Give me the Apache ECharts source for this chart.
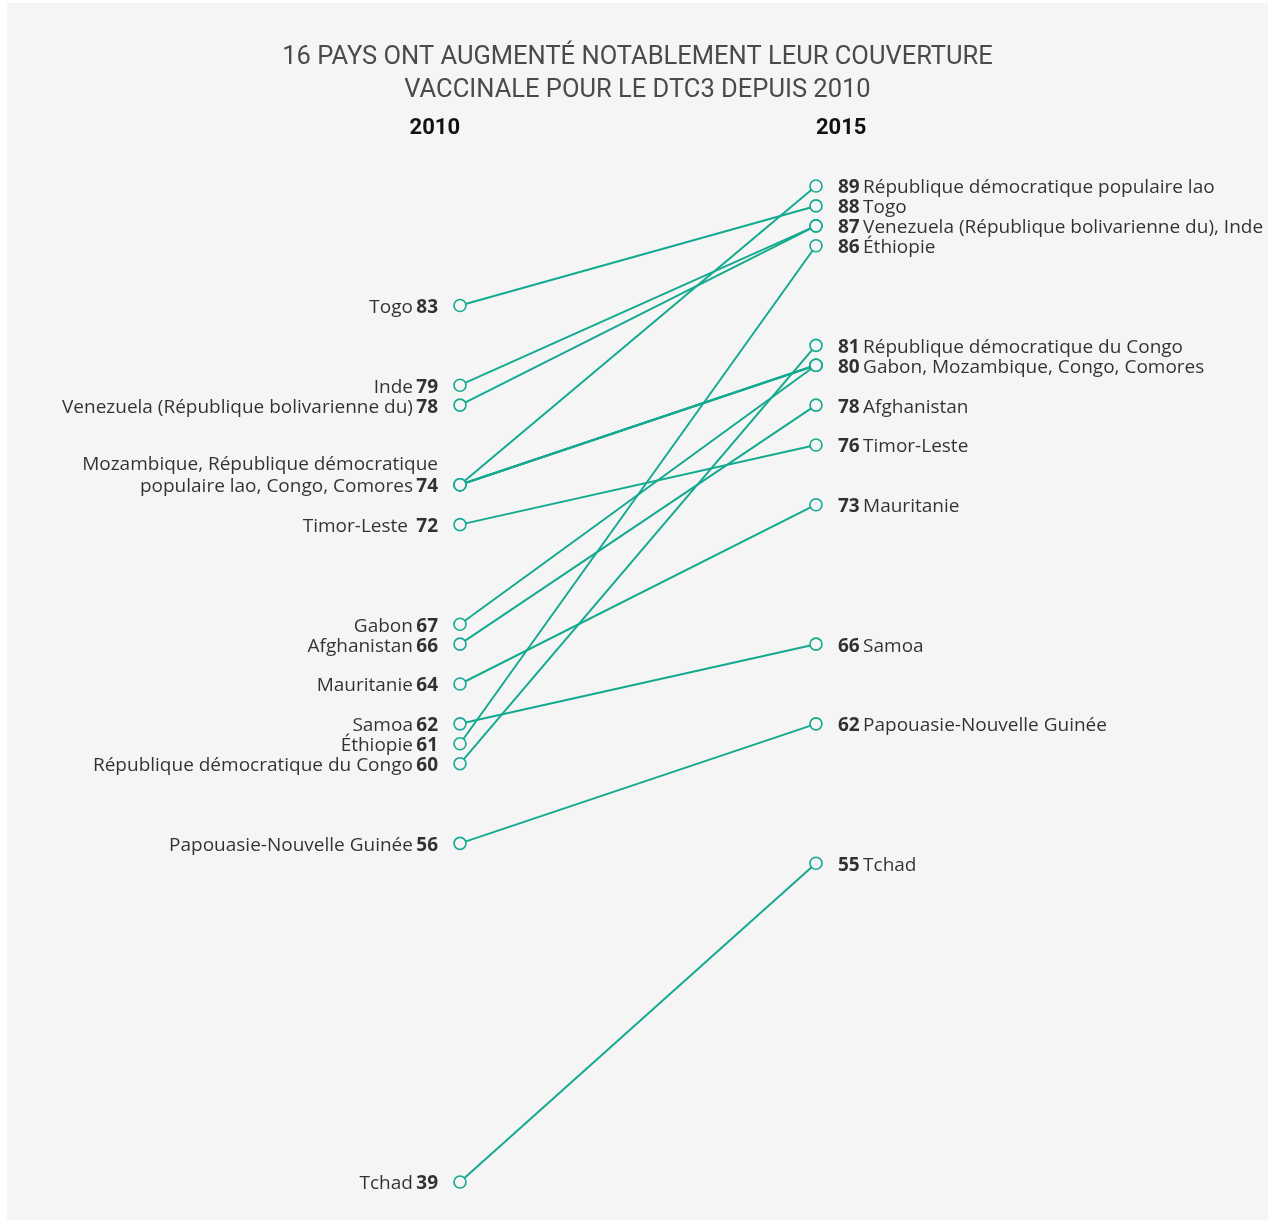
<!DOCTYPE html>
<html><head><meta charset="utf-8">
<script src="https://cdn.jsdelivr.net/npm/echarts@6/dist/echarts.min.js"></script>
<style>html,body{margin:0;padding:0;background:#fff}#c{width:1275px;height:1222px}</style>
</head><body><div id="c"></div>
<script>
const years = ['2010', '2015'];
const countries = ['Togo','Inde','Venezuela (République bolivarienne du)','Mozambique','République démocratique populaire lao','Congo','Comores','Timor-Leste','Gabon','Afghanistan','Mauritanie','Samoa','Éthiopie','République démocratique du Congo','Papouasie-Nouvelle Guinée','Tchad'];
const v2010 = [83,79,78,74,74,74,74,72,67,66,64,62,61,60,56,39];
const v2015 = [88,87,87,80,89,80,80,76,80,78,73,66,86,81,62,55];

const leftLabelText = ['Togo','Inde','Venezuela (République bolivarienne du)','Mozambique, République démocratique\npopulaire lao, Congo, Comores','Timor-Leste ','Gabon','Afghanistan','Mauritanie','Samoa','Éthiopie','République démocratique du Congo','Papouasie-Nouvelle Guinée','Tchad'];
const leftLabelValue = [83,79,78,74,72,67,66,64,62,61,60,56,39];
const rightLabelText = ['République démocratique populaire lao','Togo','Venezuela (République bolivarienne du), Inde','Éthiopie','République démocratique du Congo','Gabon, Mozambique, Congo, Comores','Afghanistan','Timor-Leste','Mauritanie','Samoa','Papouasie-Nouvelle Guinée','Tchad'];
const rightLabelValue = [89,88,87,86,81,80,78,76,73,66,62,55];

const TEAL = '#14aa90';
const FONT = '"Open Sans", Roboto, sans-serif';
const TFONT = 'Roboto, "Open Sans", sans-serif';
const chart = echarts.init(document.getElementById('c'), null, {renderer:'canvas'});

const lineSeries = countries.map((c, i) => ({
  type: 'line', name: c,
  data: [v2010[i], v2015[i]],
  symbol: 'circle', symbolSize: 12,
  itemStyle: {color: '#f5f5f5', borderColor: TEAL, borderWidth: 1.6},
  lineStyle: {color: TEAL, width: 2},
  emphasis: {disabled: true},
  z: 2, animation: false
}));

const rich = {
  n: {fontFamily: FONT, fontSize: 19, color: '#000000', lineHeight: 22},
  b: {fontFamily: FONT, fontSize: 19, fontWeight: 'bold', color: '#000000', lineHeight: 22}
};

const leftLabels = {
  type: 'scatter', symbolSize: 0, silent: true, z: 3, animation: false,
  data: leftLabelText.map((t, i) => {
    const lines = t.split('\n');
    return {
      value: [0, leftLabelValue[i]],
      label: {
        show: true, position: 'left', distance: 22, color: '#000',
        offset: [0, 2 - (lines.length - 1) * 11],
        align: 'right',
        formatter: lines.map((l, k) => k === lines.length - 1 ? '{n|' + l + '} {b|' + leftLabelValue[i] + '}' : '{n|' + l + '}').join('\n'),
        rich: rich
      }
    };
  })
};

const rightLabels = {
  type: 'scatter', symbolSize: 0, silent: true, z: 3, animation: false,
  data: rightLabelText.map((t, i) => ({
    value: [1, rightLabelValue[i]],
    label: {
      show: true, position: 'right', distance: 22, color: '#000', offset: [0, 2],
      formatter: '{b|' + rightLabelValue[i] + '} {n|' + t + '}',
      rich: rich
    }
  }))
};

chart.setOption({
  backgroundColor: '#ffffff',
  animation: false,
  graphic: [{type: 'rect', shape: {x: 7, y: 3, width: 1261, height: 1217}, style: {fill: '#f5f5f5'}, z: -10, silent: true}],
  title: {
    text: '16 PAYS ONT AUGMENTÉ NOTABLEMENT LEUR COUVERTURE\nVACCINALE POUR LE DTC3 DEPUIS 2010',
    left: 'center', top: 36,
    textStyle: {fontFamily: TFONT, fontSize: 25.5, fontWeight: 'normal', color: '#4a4a4a', lineHeight: 33}
  },
  grid: {left: 460, right: 459, top: 186, bottom: 40},
  xAxis: {
    type: 'category', data: years, boundaryGap: false, position: 'top',
    axisLine: {show: false}, axisTick: {show: false}, splitLine: {show: false},
    axisLabel: {show: true, margin: 47, fontFamily: TFONT, fontSize: 22, fontWeight: 'bold', color: '#111',
      alignMinLabel: 'right', alignMaxLabel: 'left'}
  },
  yAxis: {type: 'value', min: 39, max: 89, show: false},
  series: lineSeries.concat([leftLabels, rightLabels])
});
</script></body></html>
